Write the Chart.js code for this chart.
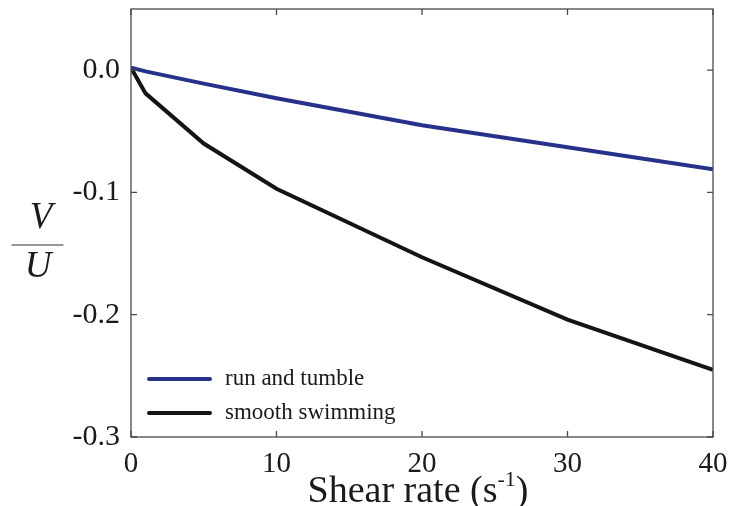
<!DOCTYPE html>
<html>
<head>
<meta charset="utf-8">
<script src="https://cdn.jsdelivr.net/npm/chart.js@4"></script>
<style>
  body { margin: 0; background: #fff; }
  canvas { display: block; }
</style>
</head>
<body>
<canvas id="shearChart" width="731" height="506"></canvas>
<script>
const shearRate = [0, 1, 5, 10, 20, 30, 40];
const runTumble = [0.002, -0.001, -0.011, -0.023, -0.045, -0.063, -0.081];
const smoothSwim = [0.002, -0.019, -0.060, -0.097, -0.153, -0.204, -0.245];

const xTicks = [0, 10, 20, 30, 40];
const yTicks = [-0.3, -0.2, -0.1, 0.0];

const serif = "'Liberation Serif', 'Times New Roman', serif";

function points(ys) {
    return shearRate.map((x, i) => ({ x: x, y: ys[i] }));
}

// frame, inward ticks on all four sides, legend and axis titles
const decor = {
    id: "decor",
    afterDraw(chart) {
        const ctx = chart.ctx;
        const area = chart.chartArea;
        const xs = chart.scales.x;
        const ys = chart.scales.y;
        const tick = 6;

        ctx.save();
        ctx.strokeStyle = "#4a4a4a";
        ctx.lineWidth = 1.3;
        ctx.strokeRect(area.left, area.top, area.right - area.left, area.bottom - area.top);

        ctx.beginPath();
        xTicks.forEach(v => {
            const px = xs.getPixelForValue(v);
            ctx.moveTo(px, area.bottom);
            ctx.lineTo(px, area.bottom - tick);
            ctx.moveTo(px, area.top);
            ctx.lineTo(px, area.top + tick);
        });
        yTicks.forEach(v => {
            const py = ys.getPixelForValue(v);
            ctx.moveTo(area.left, py);
            ctx.lineTo(area.left + tick, py);
            ctx.moveTo(area.right, py);
            ctx.lineTo(area.right - tick, py);
        });
        ctx.stroke();

        // legend
        ctx.font = "23px " + serif;
        ctx.textBaseline = "middle";
        ctx.textAlign = "left";
        chart.data.datasets.forEach((ds, i) => {
            const y = 379 + i * 34;
            ctx.strokeStyle = ds.borderColor;
            ctx.lineWidth = 4;
            ctx.lineCap = "round";
            ctx.beginPath();
            ctx.moveTo(149, y);
            ctx.lineTo(210, y);
            ctx.stroke();
            ctx.fillStyle = "#1a1a1a";
            ctx.fillText(ds.label, 225, y);
        });

        // x title with superscript
        ctx.fillStyle = "#1a1a1a";
        ctx.textBaseline = "alphabetic";
        const big = "38px " + serif;
        const small = "22px " + serif;
        const parts = [["Shear rate (s", big, 0], ["-1", small, -16], [")", big, 0]];
        let width = 0;
        parts.forEach(p => { ctx.font = p[1]; width += ctx.measureText(p[0]).width; });
        let x = 418 - width / 2;
        parts.forEach(p => {
            ctx.font = p[1];
            ctx.fillText(p[0], x, 502 + p[2]);
            x += ctx.measureText(p[0]).width;
        });

        // y title as a fraction V / U
        ctx.font = "italic 37px " + serif;
        ctx.textAlign = "center";
        ctx.textBaseline = "middle";
        ctx.fillText("V", 41, 218);
        ctx.fillText("U", 38, 267);
        ctx.strokeStyle = "#333";
        ctx.lineWidth = 1.2;
        ctx.beginPath();
        ctx.moveTo(12, 245);
        ctx.lineTo(63, 245);
        ctx.stroke();
        ctx.restore();
    }
};

new Chart(document.getElementById("shearChart"), {
    type: "line",
    data: {
        datasets: [
            {
                label: "run and tumble",
                data: points(runTumble),
                borderColor: "#27318a",
                borderWidth: 4
            },
            {
                label: "smooth swimming",
                data: points(smoothSwim),
                borderColor: "#141414",
                borderWidth: 4
            }
        ]
    },
    options: {
        responsive: false,
        animation: false,
        layout: { padding: { top: 9, right: 18, left: 0, bottom: 0 } },
        elements: { point: { radius: 0 }, line: { tension: 0 } },
        plugins: {
            legend: { display: false },
            tooltip: { enabled: false }
        },
        scales: {
            x: {
                type: "linear",
                min: 0,
                max: 40,
                afterBuildTicks: s => { s.ticks = xTicks.map(v => ({ value: v })); },
                afterFit: s => { s.height = 69; s.paddingLeft = 0; s.paddingRight = 0; },
                grid: { display: false },
                border: { display: false },
                ticks: {
                    color: "#1a1a1a",
                    font: { family: serif, size: 29 },
                    padding: 2,
                    maxRotation: 0
                }
            },
            y: {
                min: -0.3,
                max: 0.05,
                afterBuildTicks: s => { s.ticks = yTicks.map(v => ({ value: v })); },
                afterFit: s => { s.width = 131; s.paddingTop = 0; s.paddingBottom = 0; },
                grid: { display: false },
                border: { display: false },
                ticks: {
                    color: "#1a1a1a",
                    font: { family: serif, size: 30 },
                    padding: 3,
                    callback: v => v.toFixed(1)
                }
            }
        }
    },
    plugins: [decor]
});
</script>
</body>
</html>
